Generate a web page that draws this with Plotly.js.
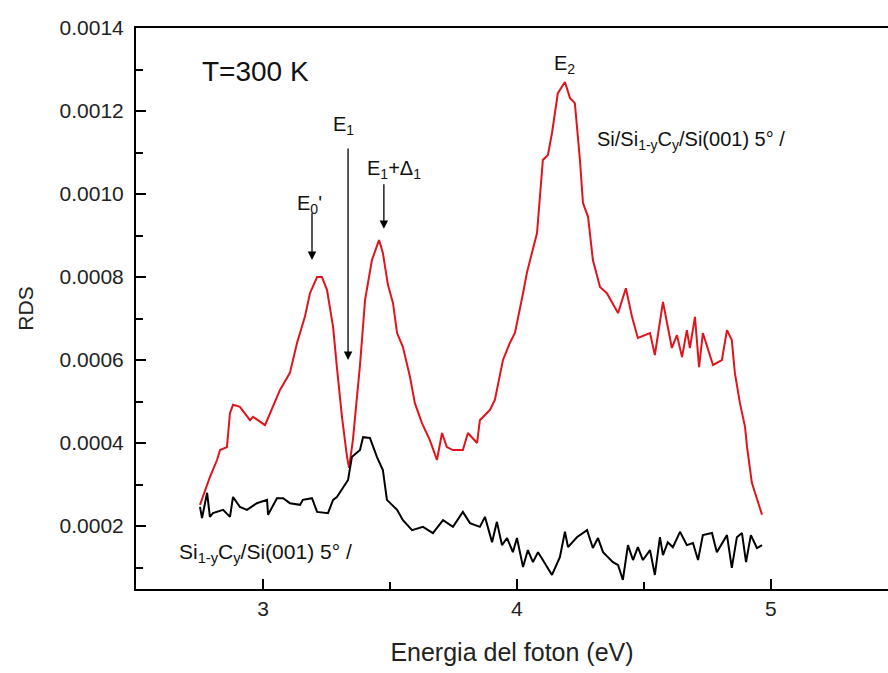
<!DOCTYPE html>
<html>
<head>
<meta charset="utf-8">
<script src="https://cdn.plot.ly/plotly-3.0.1.min.js"></script>
<style>html,body{margin:0;padding:0;background:#fff;}#chart{width:888px;height:673px;}</style>
</head>
<body>
<div id="chart"></div>
<script>
// Si/Si1-yCy/Si(001) 5° (red)
const redX = [2.752,2.791,2.819,2.831,2.858,2.870,2.882,2.909,2.949,2.961,3.008,3.035,3.067,3.106,3.134,3.165,3.185,3.213,3.232,3.252,3.276,3.291,3.311,3.331,3.339,3.354,3.382,3.402,3.429,3.457,3.472,3.492,3.512,3.528,3.551,3.579,3.598,3.626,3.657,3.685,3.705,3.724,3.748,3.787,3.807,3.843,3.854,3.894,3.913,3.945,3.972,3.992,4.012,4.024,4.039,4.079,4.102,4.122,4.138,4.161,4.189,4.209,4.228,4.248,4.260,4.280,4.299,4.327,4.354,4.398,4.429,4.453,4.476,4.524,4.543,4.575,4.610,4.630,4.650,4.669,4.681,4.701,4.717,4.732,4.772,4.807,4.827,4.846,4.858,4.878,4.898,4.906,4.925,4.965];
const redY = [2.51,3.18,3.59,3.83,3.90,4.72,4.92,4.87,4.55,4.63,4.43,4.80,5.28,5.69,6.41,7.04,7.61,8.00,8.00,7.69,6.80,5.83,4.63,3.66,3.40,4.07,5.88,7.45,8.41,8.89,8.58,7.81,7.37,6.65,6.31,5.59,4.96,4.48,4.07,3.59,4.24,3.90,3.83,3.83,4.24,4.00,4.55,4.80,5.04,6.00,6.41,6.65,7.20,7.61,8.10,9.06,10.82,10.94,11.47,12.43,12.70,12.31,12.19,10.82,9.78,9.45,8.41,7.76,7.61,7.13,7.73,7.04,6.53,6.65,6.12,7.40,6.29,6.60,6.07,6.72,6.29,7.04,5.83,6.65,5.88,6.00,6.72,6.48,5.69,4.96,4.39,3.90,3.04,2.27].map(v => v * 1e-4);

// Si1-yCy/Si(001) 5° (black)
const blackX = [2.752,2.760,2.780,2.791,2.803,2.843,2.870,2.882,2.909,2.937,2.976,3.016,3.020,3.055,3.079,3.106,3.146,3.157,3.193,3.213,3.256,3.276,3.291,3.315,3.335,3.350,3.370,3.382,3.394,3.421,3.449,3.472,3.488,3.528,3.551,3.587,3.630,3.669,3.709,3.748,3.787,3.815,3.854,3.874,3.902,3.921,3.941,3.961,3.984,4.000,4.024,4.043,4.063,4.083,4.102,4.138,4.169,4.189,4.201,4.236,4.276,4.299,4.319,4.339,4.378,4.398,4.417,4.437,4.457,4.476,4.496,4.524,4.543,4.563,4.575,4.594,4.614,4.642,4.669,4.693,4.713,4.732,4.768,4.787,4.827,4.846,4.866,4.886,4.902,4.921,4.945,4.965];
const blackY = [2.46,2.19,2.80,2.22,2.31,2.39,2.22,2.70,2.46,2.39,2.55,2.63,2.27,2.67,2.67,2.55,2.51,2.63,2.67,2.34,2.31,2.63,2.70,2.94,3.11,3.66,3.76,3.83,4.14,4.12,3.66,3.35,2.63,2.39,2.14,1.90,1.98,1.83,2.14,1.98,2.34,2.07,1.98,2.22,1.61,2.10,1.54,1.71,1.37,1.71,1.01,1.42,1.13,1.37,1.18,0.82,1.25,1.86,1.49,1.73,1.90,1.47,1.71,1.37,1.13,1.06,0.70,1.54,1.18,1.49,1.18,1.42,0.82,1.73,1.30,1.61,1.49,1.86,1.54,1.59,1.18,1.78,1.83,1.37,1.78,0.99,1.73,1.83,1.13,1.78,1.47,1.54].map(v => v * 1e-4);

const xTicks = [3, 4, 5];
const yTicks = [0.0002, 0.0004, 0.0006, 0.0008, 0.0010, 0.0012, 0.0014];
const yTickText = ["0.0002","0.0004","0.0006","0.0008","0.0010","0.0012","0.0014"];

const FONT = "Liberation Sans, Arial, sans-serif";

const traces = [
  {x: redX, y: redY, mode: 'lines', line: {color: '#e0141b', width: 2}, hoverinfo: 'skip'},
  {x: blackX, y: blackY, mode: 'lines', line: {color: '#000000', width: 2}, hoverinfo: 'skip'}
];

function arrow(x0, y0, x1, y1) {
  return {x: x1, y: y1, ax: x0, ay: y0, xref: 'x', yref: 'y', axref: 'x', ayref: 'y',
    text: '', showarrow: true, arrowhead: 2, arrowsize: 1.3, arrowwidth: 1.3, arrowcolor: '#000', standoff: 0, startstandoff: 0};
}
function label(x, y, text, size, anchor) {
  return {x: x, y: y, xref: 'x', yref: 'y', text: text, showarrow: false,
    xanchor: anchor || 'center', yanchor: 'middle', font: {family: FONT, size: size, color: '#111'}};
}

const annotations = [
  label(2.752, 0.001294, 'T=300 K', 28, 'left'),
  label(3.185, 0.000975, 'E<sub>0</sub>\'', 20),
  label(3.318, 0.001166, 'E<sub>1</sub>', 20),
  label(3.515, 0.001058, 'E<sub>1</sub>+Δ<sub>1</sub>', 20),
  label(4.189, 0.001311, 'E<sub>2</sub>', 20),
  label(4.307, 0.00113, 'Si/Si<sub>1-y</sub>C<sub>y</sub>/Si(001) 5° /', 20, 'left'),
  label(2.661, 0.000135, 'Si<sub>1-y</sub>C<sub>y</sub>/Si(001) 5° /', 21, 'left'),
  arrow(3.193, 0.000957, 3.193, 0.000841),
  arrow(3.335, 0.001113, 3.335, 0.000600),
  arrow(3.476, 0.001027, 3.476, 0.000916)
];

const layout = {
  width: 888, height: 673,
  margin: {l: 136, r: 0, t: 28, b: 84},
  paper_bgcolor: '#fff', plot_bgcolor: '#fff',
  showlegend: false,
  font: {family: FONT, size: 21, color: '#222'},
  xaxis: {
    range: [2.5, 5.461], showgrid: false, zeroline: false,
    showline: true, linecolor: '#000', linewidth: 2, mirror: true,
    ticks: 'inside', ticklen: 10, tickwidth: 2, tickcolor: '#000',
    tickvals: xTicks, ticktext: xTicks.map(String),
    minor: {ticks: 'inside', ticklen: 7, tickwidth: 2, tickcolor: '#000', dtick: 0.5, tick0: 2.5},
    tickfont: {family: FONT, size: 21, color: '#222'},
    title: {text: 'Energia del foton (eV)', font: {family: FONT, size: 25, color: '#222'}, standoff: 24}
  },
  yaxis: {
    range: [0.0000482, 0.0014], showgrid: false, zeroline: false,
    showline: true, linecolor: '#000', linewidth: 2,
    ticks: 'inside', ticklen: 10, tickwidth: 2, tickcolor: '#000',
    ticklabelstandoff: 6,
    tickvals: yTicks, ticktext: yTickText,
    minor: {ticks: 'inside', ticklen: 7, tickwidth: 2, tickcolor: '#000', dtick: 0.0001, tick0: 0.0001},
    tickfont: {family: FONT, size: 21, color: '#222'},
    title: {text: 'RDS', font: {family: FONT, size: 21, color: '#222'}, standoff: 20}
  },
  annotations: annotations
};

Plotly.newPlot('chart', traces, layout, {staticPlot: true, displayModeBar: false});
</script>
</body>
</html>
